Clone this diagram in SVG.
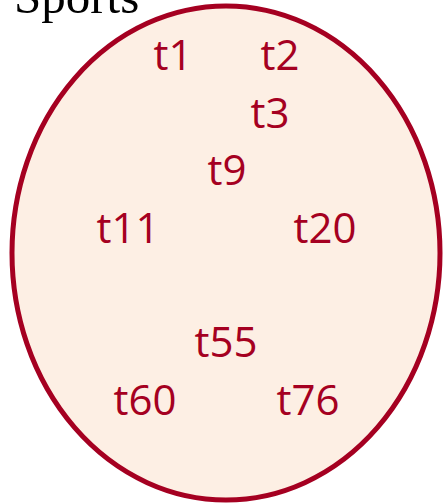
<svg xmlns="http://www.w3.org/2000/svg" width="443" height="504" viewBox="0 0 443 504">
<style>
.set{fill:#FDEFE4;stroke:#A50021;stroke-width:5}
.lbl{font-family:"Open Sans","Liberation Sans",sans-serif;font-size:42px;fill:#A50021;text-anchor:middle}
.title{font-family:"Liberation Serif",serif;font-size:49px;fill:#000}
</style>
<rect width="443" height="504" fill="#fff"/>
<g id="set-sports">
<ellipse class="set" cx="226" cy="253" rx="214" ry="247"/>
<text class="title" x="14" y="13">Sports</text>
</g>
<g id="connectors"></g>
<g id="t1"><text class="lbl" x="173" y="70">t1</text></g>
<g id="t2"><text class="lbl" x="280" y="70">t2</text></g>
<g id="t3"><text class="lbl" x="270" y="128">t3</text></g>
<g id="t9"><text class="lbl" x="227" y="185">t9</text></g>
<g id="t11"><text class="lbl" x="128" y="243">t11</text></g>
<g id="t20"><text class="lbl" x="325" y="243">t20</text></g>
<g id="t55"><text class="lbl" x="226" y="357">t55</text></g>
<g id="t60"><text class="lbl" x="145" y="415">t60</text></g>
<g id="t76"><text class="lbl" x="308" y="415">t76</text></g>
</svg>
